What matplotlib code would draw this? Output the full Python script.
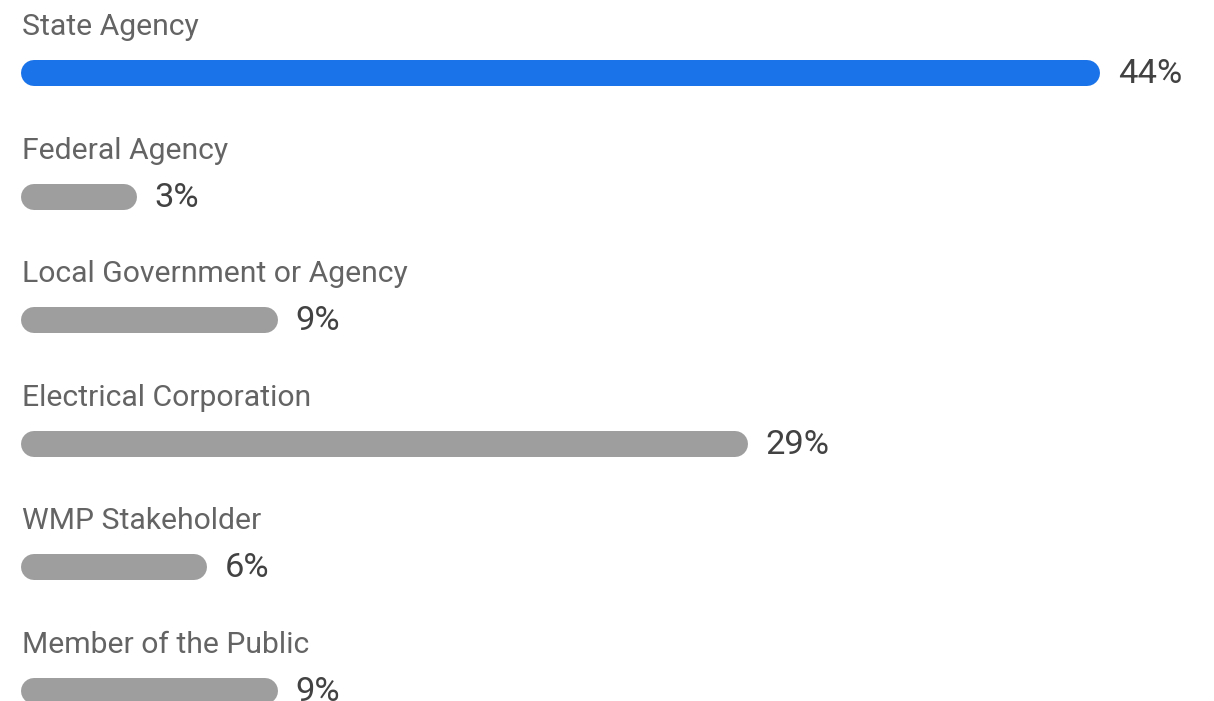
import matplotlib.pyplot as plt
import numpy as np

# Data
categories = ["State Agency", "Federal Agency", "Local Government or Agency",
              "Electrical Corporation", "WMP Stakeholder", "Member of the Public"]
percents = [44, 3, 9, 29, 6, 9]

plt.rcParams["font.family"] = ["Roboto", "DejaVu Sans"]

W, H, DPI = 1214, 701, 100
fig = plt.figure(figsize=(W / DPI, H / DPI), dpi=DPI)
ax = fig.add_axes([0, 0, 1, 1])
ax.axis("off")

# px per percent and base length (bars have a minimum stub)
px_per = 23.5
base = 45 / px_per
left_px = 21
zero_px = left_px + 45
ax.set_xlim(-zero_px / px_per, (W - zero_px) / px_per)

row_px = 123.6
first_px = 73
ax.set_ylim((H - first_px) / row_px, -first_px / row_px)

bar_h_px = 26
lw_pt = bar_h_px * 72 / DPI
r = (bar_h_px / 2) / px_per

top = max(percents)
for i, (cat, p) in enumerate(zip(categories, percents)):
    color = "#1a73e8" if p == top else "#9e9e9e"
    ax.plot([-base + r, p - r], [i, i], color=color, lw=lw_pt,
            solid_capstyle="round")
    ax.text(p + 18 / px_per, i + 10 / row_px, f"{p}%", ha="left", va="baseline",
            fontsize=24.8, color="#424242")
    ax.text(-base + 1 / px_per, i - 38 / row_px, cat, ha="left", va="baseline",
            fontsize=21.7, color="#646464")

fig.savefig("out.png", dpi=DPI)
